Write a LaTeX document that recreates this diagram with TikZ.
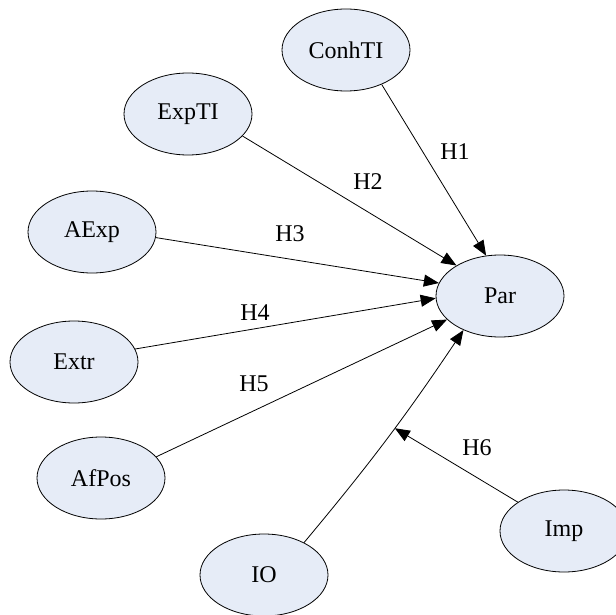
\documentclass[tikz,border=0pt]{standalone}
\usepackage{fontspec}
\setmainfont{Liberation Serif}
\usetikzlibrary{shapes.geometric,arrows.meta}
\definecolor{varfill}{RGB}{230,236,247}

\begin{document}
\begin{tikzpicture}[x=1pt,y=-1pt,
        var/.style={ellipse, draw=black, fill=varfill, line width=0.8pt,
            minimum width=128pt, minimum height=82pt, inner sep=0pt,
            font=\fontsize{24}{28}\selectfont},
        hyp/.style={line width=0.8pt, -{Triangle[length=15pt,width=12pt]}},
        lbl/.style={inner sep=0pt, font=\fontsize{24}{28}\selectfont}]
        \useasboundingbox (0,0) rectangle (616,615);
        \clip (0,0) rectangle (616,615);
        %VARIABEL
        \node[var] (ConhTI) at (346,50) {ConhTI};
        \node[var] (ExpTI) at (188,114) {ExpTI};
        \node[var] (AExp) at (92,232) {AExp};
        \node[var] (Extr) at (74,362) {Extr};
        \node[var] (AfPos) at (101,478) {AfPos};
        \node[var] (IO) at (264,575) {IO};
        \node[var] (Imp) at (564,531) {Imp};
        \node[var] (Par) at (500,296) {Par};
        %HIPOTESIS
        \draw[hyp] (ConhTI.316) -- (Par.109);
        \draw[hyp] (ExpTI.338) -- (Par.145);
        \draw[hyp] (AExp.355) -- (Par.168);
        \draw[hyp] (Extr.12) -- (Par.182);
        \draw[hyp] (AfPos.21) -- (Par.204);
        \draw[hyp] (IO.39) to[bend right=3] coordinate[pos=0.554] (ioend) (Par.223);
        \draw[hyp] (Imp.148) -- (ioend);
        %LABEL
        \node[lbl] (h1) at (455,152) {H1};
        \node[lbl] (h2) at (368,182) {H2};
        \node[lbl] (h3) at (290,234) {H3};
        \node[lbl] (h4) at (255,313) {H4};
        \node[lbl] (h5) at (254,384) {H5};
        \node[lbl] (h6) at (477,448) {H6};
    \end{tikzpicture}
\end{document}
